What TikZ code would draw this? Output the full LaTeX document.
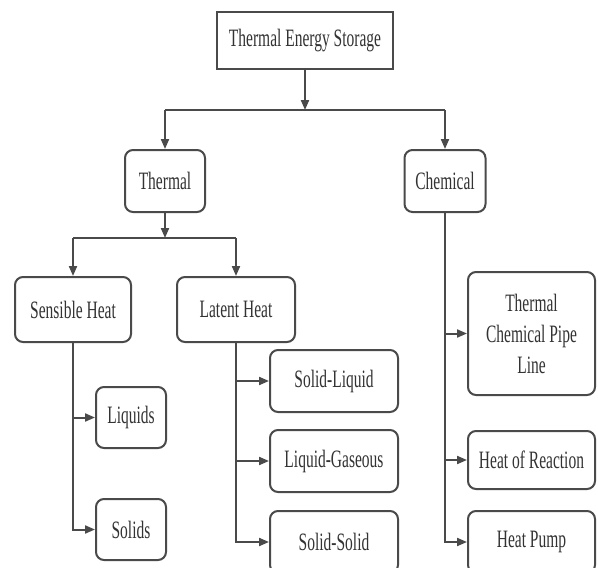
\documentclass[tikz,border=0pt]{standalone}
\usepackage{fontspec}
\setmainfont{Liberation Serif}[FakeStretch=0.62]
\usetikzlibrary{arrows.meta}
\definecolor{ln}{HTML}{4A4A4A}
\definecolor{tx}{HTML}{333333}
\begin{document}
\begin{tikzpicture}[x=1pt,y=-1pt,
  box/.style={draw=ln,line width=2pt,text=tx,font=\fontsize{25}{28}\selectfont,inner sep=0pt,align=center},
  rbox/.style={box,rounded corners=8pt},
  conn/.style={draw=ln,line width=2pt},
  arr/.style={conn,-{Triangle[length=10pt,width=8pt]}}]
\clip (0,0) rectangle (598,568);
\fill[white] (0,0) rectangle (598,568);
\node[box,minimum width=176pt,minimum height=57pt] (tes) at (305,40.5) {Thermal Energy Storage};
\node[rbox,minimum width=80pt,minimum height=62pt] (thermal) at (165,181) {Thermal};
\node[rbox,minimum width=81pt,minimum height=62pt] (chem) at (445,181) {Chemical};
\node[rbox,minimum width=116pt,minimum height=65pt] (sens) at (73,309.5) {Sensible Heat};
\node[rbox,minimum width=118pt,minimum height=65pt] (lat) at (236,309.5) {Latent Heat};
\node[rbox,minimum width=70pt,minimum height=61pt] (liq) at (131,417.5) {Liquids};
\node[rbox,minimum width=70pt,minimum height=61pt] (sol) at (131,529.5) {Solids};
\node[rbox,minimum width=128pt,minimum height=62pt] (sl) at (334,381) {Solid-Liquid};
\node[rbox,minimum width=128pt,minimum height=62pt] (lg) at (334,461) {Liquid-Gaseous};
\node[rbox,minimum width=128pt,minimum height=62pt] (ss) at (334,542) {Solid-Solid};
\node[rbox,minimum width=127pt,minimum height=123pt,font=\fontsize{25}{31}\selectfont] (tcpl) at (531.5,333.5) {Thermal\\Chemical Pipe\\Line};
\node[rbox,minimum width=127pt,minimum height=58pt] (hor) at (531.5,460) {Heat of Reaction};
\node[rbox,minimum width=127pt,minimum height=62pt] (hp) at (531.5,542) {Heat Pump};
% top level
\coordinate (b1) at (tes.south |- 0,110);
\draw[arr] (tes.south) -- (b1);
\draw[conn] (thermal.north |- b1) -- (chem.north |- b1);
\draw[arr] (thermal.north |- b1) -- (thermal.north);
\draw[arr] (chem.north |- b1) -- (chem.north);
% thermal level
\coordinate (b2) at (thermal.south |- 0,238);
\draw[arr] (thermal.south) -- (b2);
\draw[conn] (sens.north |- b2) -- (lat.north |- b2);
\draw[arr] (sens.north |- b2) -- (sens.north);
\draw[arr] (lat.north |- b2) -- (lat.north);
% sensible
\draw[arr] (sens.south) |- (sol.west);
\draw[arr] (sens.south |- liq.west) -- (liq.west);
% latent
\draw[arr] (lat.south) |- (ss.west);
\draw[arr] (lat.south |- sl.west) -- (sl.west);
\draw[arr] (lat.south |- lg.west) -- (lg.west);
% chemical
\draw[arr] (chem.south) |- (hp.west);
\draw[arr] (chem.south |- tcpl.west) -- (tcpl.west);
\draw[arr] (chem.south |- hor.west) -- (hor.west);
\end{tikzpicture}
\end{document}
